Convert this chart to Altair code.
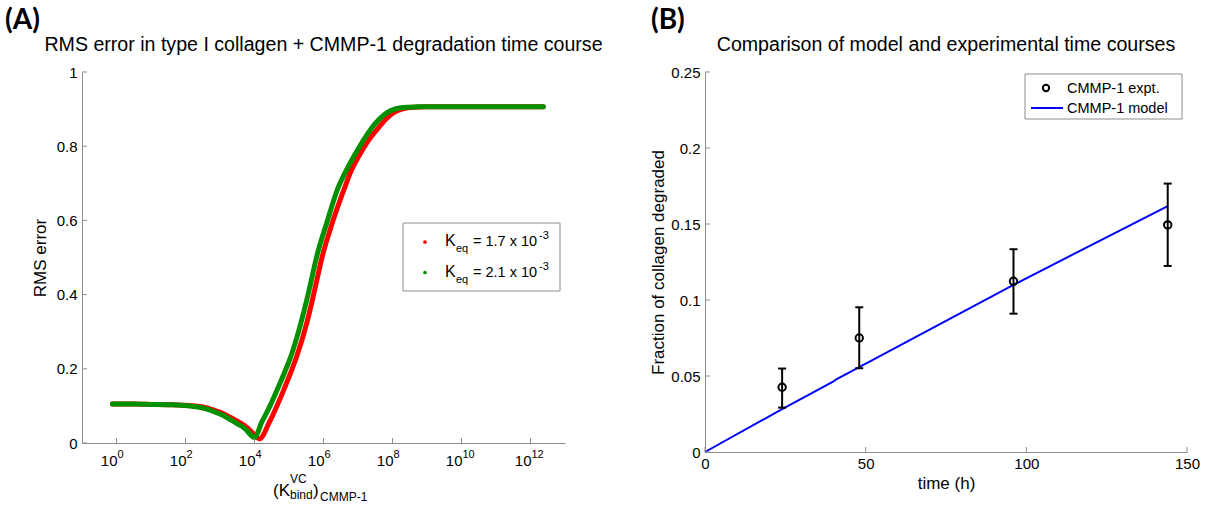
import altair as alt
import pandas as pd

FONT = "Liberation Sans"
GRAY = "#8c8c8c"
RED = "#ff0000"
GREEN = "#009000"
BLUE = "#0000ff"

# ---------------- Panel A data (log10 K, RMS error) ----------------
exp_red = [-0.12, 0.5, 1.0, 1.5, 1.9, 2.36, 2.6, 2.84, 3.1, 3.32, 3.52, 3.71, 3.95, 4.14, 4.43,
           4.65, 4.86, 5.05, 5.23, 5.52, 5.75, 5.97, 6.26, 6.60, 6.8, 7.03, 7.3, 7.56, 7.8, 8.04,
           8.3, 8.62, 9.0, 10.0, 11.0, 12.37]
rms_red = [0.105, 0.105, 0.104, 0.103, 0.102, 0.099, 0.095, 0.088, 0.079, 0.068, 0.058, 0.047,
           0.027, 0.011, 0.056, 0.100, 0.146, 0.190, 0.235, 0.325, 0.415, 0.505, 0.595, 0.685,
           0.733, 0.774, 0.815, 0.846, 0.872, 0.891, 0.901, 0.905, 0.906, 0.906, 0.906, 0.906]
exp_green = [-0.12, 0.5, 1.0, 1.5, 1.88, 2.36, 2.6, 2.84, 3.1, 3.32, 3.52, 3.71, 4.0, 4.21, 4.45,
             4.67, 4.87, 5.06, 5.35, 5.59, 5.81, 6.10, 6.41, 6.65, 6.89, 7.13, 7.37, 7.6, 7.85,
             8.1, 8.43, 8.8, 10.0, 11.0, 12.37]
rms_green = [0.105, 0.105, 0.104, 0.103, 0.102, 0.097, 0.092, 0.084, 0.074, 0.062, 0.051, 0.040,
             0.015, 0.056, 0.100, 0.146, 0.190, 0.235, 0.325, 0.415, 0.505, 0.595, 0.685, 0.733,
             0.774, 0.812, 0.846, 0.871, 0.891, 0.901, 0.905, 0.906, 0.906, 0.906, 0.906]
keq_values = ["1.7", "2.1"]
keq_colors = [RED, GREEN]
xtick_exps = [0, 2, 4, 6, 8, 10, 12]
ytick_a = [0, 0.2, 0.4, 0.6, 0.8, 1.0]

# ---------------- Panel B data ----------------
t_expt = [24, 48, 96, 144]
f_expt = [0.0426, 0.075, 0.1123, 0.1494]
f_lo = [0.0292, 0.0551, 0.0910, 0.1224]
f_hi = [0.0549, 0.0952, 0.1334, 0.1766]
t_model = [0, 24, 40, 41, 48, 96, 144]
f_model = [0, 0.0282, 0.0465, 0.0480, 0.0558, 0.1100, 0.1618]
xtick_b = [0, 50, 100, 150]
ytick_b = [0, 0.05, 0.1, 0.15, 0.2, 0.25]

WA, HA = 483, 371
WB, HB = 482, 380

one = pd.DataFrame({"t": [""]})


def txt(s, x, y, size, align="left", weight="normal", font=FONT, color="black", baseline="alphabetic"):
    return alt.Chart(one).mark_text(
        text=s, align=align, baseline=baseline, fontSize=size, fontWeight=weight,
        font=font, color=color
    ).encode(x=alt.value(x), y=alt.value(y))


# ---------------- Panel A ----------------
xs = alt.Scale(type="log", domain=[0.1, 1e13])
ysa = alt.Scale(domain=[0, 1])
ax_xa = alt.Axis(labels=False, ticks=False, tickSize=0, title="", grid=False, domainColor=GRAY)
ax_ya = alt.Axis(values=ytick_a, format="~g", title="RMS error", titlePadding=7, labelPadding=5,
                 ticks=False, tickSize=0, grid=False, domainColor=GRAY)

df_red = pd.DataFrame({"K": [10 ** e for e in exp_red], "rms": rms_red})
df_green = pd.DataFrame({"K": [10 ** e for e in exp_green], "rms": rms_green})

red_line = alt.Chart(df_red).mark_line(color=RED, strokeWidth=5, strokeCap="round", strokeJoin="round",
                                       interpolate="monotone").encode(
    x=alt.X("K:Q", scale=xs, axis=ax_xa),
    y=alt.Y("rms:Q", scale=ysa, axis=ax_ya),
)
green_line = alt.Chart(df_green).mark_line(color=GREEN, strokeWidth=5, strokeCap="round", strokeJoin="round",
                                           interpolate="monotone").encode(
    x=alt.X("K:Q", scale=xs, axis=ax_xa),
    y=alt.Y("rms:Q", scale=ysa, axis=ax_ya),
)

df_xt = pd.DataFrame({"K": [10 ** e for e in xtick_exps], "e": [str(e) for e in xtick_exps]})
xt_rules = alt.Chart(df_xt).mark_rule(color=GRAY).encode(
    x=alt.X("K:Q", scale=xs, axis=ax_xa), y=alt.value(HA), y2=alt.value(HA - 5))
xt_ten = alt.Chart(df_xt).mark_text(text="10", align="right", baseline="alphabetic", fontSize=15,
                                    font=FONT, dx=1).encode(
    x=alt.X("K:Q", scale=xs, axis=ax_xa), y=alt.value(HA + 23))
xt_exp = alt.Chart(df_xt).mark_text(align="left", baseline="alphabetic", fontSize=11, font=FONT, dx=1).encode(
    x=alt.X("K:Q", scale=xs, axis=ax_xa), y=alt.value(HA + 15), text="e:N")

df_yta = pd.DataFrame({"rms": ytick_a})
yt_rules_a = alt.Chart(df_yta).mark_rule(color=GRAY).encode(
    y=alt.Y("rms:Q", scale=ysa, axis=ax_ya), x=alt.value(0), x2=alt.value(5))

leg_box_a = alt.Chart(one).mark_rect(fill="white", stroke=GRAY, strokeWidth=1).encode(
    x=alt.value(321), x2=alt.value(478), y=alt.value(151), y2=alt.value(219))

leg_a = [leg_box_a]
for i, (val, col) in enumerate(zip(keq_values, keq_colors)):
    dy = 30.5 * i
    leg_a.append(alt.Chart(one).mark_point(filled=True, size=14, color=col, opacity=1).encode(
        x=alt.value(343), y=alt.value(170 + dy)))
    leg_a.append(txt("K", 363, 174 + dy, 16))
    leg_a.append(txt("eq", 374, 180 + dy, 11))
    leg_a.append(txt("= " + val + " x 10", 391, 174 + dy, 14.5))
    leg_a.append(txt("-3", 457, 167 + dy, 11))

labels_a = [
    txt("(A)", -77, -43, 28, weight="bold", font="Lato"),
    txt("RMS error in type I collagen + CMMP-1 degradation time course", WA / 2, -21, 19.6, align="center"),
    txt("(K", 191, 424, 17),
    txt("VC", 208, 411, 12),
    txt("bind", 208, 427, 12),
    txt(")", 231, 424, 17),
    txt("CMMP-1", 238, 429, 12),
]

panel_a = alt.layer(
    red_line, green_line, xt_rules, yt_rules_a, xt_ten, xt_exp, *leg_a, *labels_a
).properties(width=WA, height=HA)

# ---------------- Panel B ----------------
xsb = alt.Scale(domain=[0, 150])
ysb = alt.Scale(domain=[0, 0.25])
ax_xb = alt.Axis(values=xtick_b, title="time (h)", labelFlush=False, labelPadding=4, titlePadding=4,
                 ticks=False, tickSize=0, grid=False, domainColor=GRAY)
ax_yb = alt.Axis(values=ytick_b, format="~g", title="Fraction of collagen degraded", titlePadding=3,
                 labelPadding=5, ticks=False, tickSize=0, grid=False, domainColor=GRAY)

df_model = pd.DataFrame({"t": t_model, "f": f_model})
df_expt = pd.DataFrame({"t": t_expt, "f": f_expt, "lo": f_lo, "hi": f_hi})

model_line = alt.Chart(df_model).mark_line(color=BLUE, strokeWidth=2).encode(
    x=alt.X("t:Q", scale=xsb, axis=ax_xb),
    y=alt.Y("f:Q", scale=ysb, axis=ax_yb),
)
err = alt.Chart(df_expt).mark_rule(color="black", strokeWidth=2).encode(
    x=alt.X("t:Q", scale=xsb, axis=ax_xb), y=alt.Y("lo:Q", scale=ysb, axis=ax_yb), y2="hi:Q")
cap_lo = alt.Chart(df_expt).mark_tick(color="black", orient="horizontal", size=8, thickness=2, opacity=1).encode(
    x=alt.X("t:Q", scale=xsb, axis=ax_xb), y=alt.Y("lo:Q", scale=ysb, axis=ax_yb))
cap_hi = alt.Chart(df_expt).mark_tick(color="black", orient="horizontal", size=8, thickness=2, opacity=1).encode(
    x=alt.X("t:Q", scale=xsb, axis=ax_xb), y=alt.Y("hi:Q", scale=ysb, axis=ax_yb))
pts = alt.Chart(df_expt).mark_point(shape="circle", filled=False, size=55, strokeWidth=2,
                                    color="black", opacity=1).encode(
    x=alt.X("t:Q", scale=xsb, axis=ax_xb), y=alt.Y("f:Q", scale=ysb, axis=ax_yb))

df_xtb = pd.DataFrame({"t": xtick_b})
xt_rules_b = alt.Chart(df_xtb).mark_rule(color=GRAY).encode(
    x=alt.X("t:Q", scale=xsb, axis=ax_xb), y=alt.value(HB), y2=alt.value(HB - 5))
df_ytb = pd.DataFrame({"f": ytick_b})
yt_rules_b = alt.Chart(df_ytb).mark_rule(color=GRAY).encode(
    y=alt.Y("f:Q", scale=ysb, axis=ax_yb), x=alt.value(0), x2=alt.value(5))

leg_b = [
    alt.Chart(one).mark_rect(fill="white", stroke=GRAY, strokeWidth=1).encode(
        x=alt.value(320), x2=alt.value(477), y=alt.value(2), y2=alt.value(47)),
    alt.Chart(one).mark_point(shape="circle", filled=False, size=40, strokeWidth=2, color="black",
                              opacity=1).encode(x=alt.value(341), y=alt.value(16)),
    txt("CMMP-1 expt.", 362, 21, 14.5),
    alt.Chart(one).mark_rule(color=BLUE, strokeWidth=2).encode(
        x=alt.value(326), x2=alt.value(358), y=alt.value(36)),
    txt("CMMP-1 model", 362, 41, 14.5),
]
labels_b = [
    txt("(B)", -54, -43, 28, weight="bold", font="Lato"),
    txt("Comparison of model and experimental time courses", WB / 2, -21, 19.6, align="center"),
]

panel_b = alt.layer(
    model_line, err, cap_lo, cap_hi, pts, xt_rules_b, yt_rules_b, *leg_b, *labels_b
).properties(width=WB, height=HB)

chart = alt.hconcat(panel_a, panel_b, spacing=46).properties(
    padding={"left": 5, "top": 7, "right": 0, "bottom": 0},
    background="white",
).configure_view(stroke=None).configure_axis(
    labelFont=FONT, labelFontSize=15, labelColor="black",
    titleFont=FONT, titleFontSize=17, titleColor="black", titleFontWeight="normal",
)

chart.save("out.html", embed_options={"renderer": "svg", "actions": False})
